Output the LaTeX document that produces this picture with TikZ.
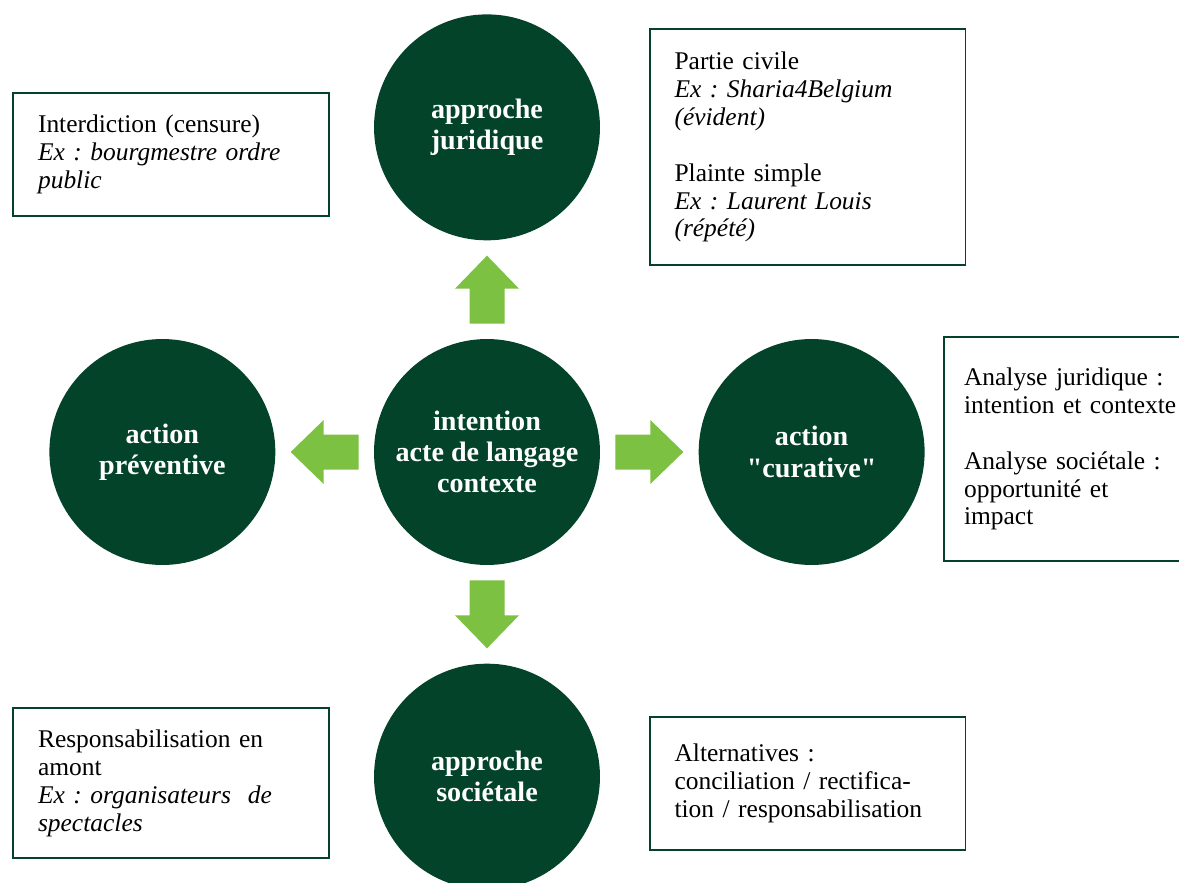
\documentclass[tikz,border=0pt]{standalone}
\usepackage{fontspec}
\setmainfont{Liberation Serif}
\usetikzlibrary{positioning}
\usetikzlibrary{calc}
\definecolor{darkGreen}{HTML}{03432A}
\definecolor{lightGreen}{HTML}{7DC142}
\frenchspacing
\tikzset{
    greenArrow/.pic={
		\fill[lightGreen] (-34,-17.5) -- (1,-17.5) -- (1,-32) -- (34,0) -- (1,32) -- (1,17.5) -- (-34,17.5) -- cycle;
	}
}
\tikzset{
    approach/.style={circle, fill=darkGreen, text=white, minimum size=4.52cm, inner sep=0pt, align=center,
		font=\fontsize{16}{17.8}\selectfont\bfseries}
}
\tikzset{
    infoBox/.style={draw=darkGreen, line width=1.1pt, fill=white, text width=5.32cm, minimum width=6.32cm,
		inner xsep=0.5cm, align=left, font=\fontsize{14.5}{15.9}\selectfont}
}
\begin{document}
\begin{tikzpicture}[x=0.02cm, y=-0.02cm, node distance=1.96cm]
          \useasboundingbox[fill=white] (0,0) rectangle (1179,882);
          \node[approach] (intention) at (487,452) {intention\\acte de langage\\contexte};
          \node[approach, above=of intention] (juridique) {approche\\juridique};
          \node[approach, below=of intention] (societale) {approche\\sociétale};
          \node[approach, left=of intention] (preventive) {action\\préventive};
          \node[approach, right=of intention] (curative) {action\\\textquotedbl curative\textquotedbl};
          \pic[rotate=90] at ($(intention)!0.5!(juridique)$) {greenArrow};
          \pic[rotate=-90] at ($(intention)!0.5!(societale)$) {greenArrow};
          \pic[rotate=180] at ($(intention)!0.5!(preventive)$) {greenArrow};
          \pic[rotate=0] at ($(intention)!0.5!(curative)$) {greenArrow};
          % info boxes
          \node[infoBox, minimum height=2.46cm] (censure) at (171,154.5)
              {Interdiction (censure)\\\textit{Ex : bourgmestre ordre}\\\textit{public}};
          \node[infoBox, minimum height=4.72cm] (civile) at (807.5,147)
              {Partie civile\\\textit{Ex : Sharia4Belgium}\\\textit{(évident)}\\[0.56cm]
               Plainte simple\\\textit{Ex : Laurent Louis}\\\textit{(répété)}};
          \node[infoBox, minimum height=4.48cm, inner xsep=0.4cm, text width=5.52cm] (analyse) at (1102,449)
              {Analyse juridique :\\intention et contexte\\[0.56cm]
               Analyse sociétale :\\opportunité et\\impact};
          \node[infoBox, minimum height=3cm] (amont) at (171,783)
              {Responsabilisation en\\amont\\\textit{Ex : organisateurs\ \ de}\\\textit{spectacles}};
          \node[infoBox, minimum height=2.66cm] (alternatives) at (807.5,783.5)
              {Alternatives :\\conciliation / rectifica-\\tion / responsabilisation};
\end{tikzpicture}
\end{document}
